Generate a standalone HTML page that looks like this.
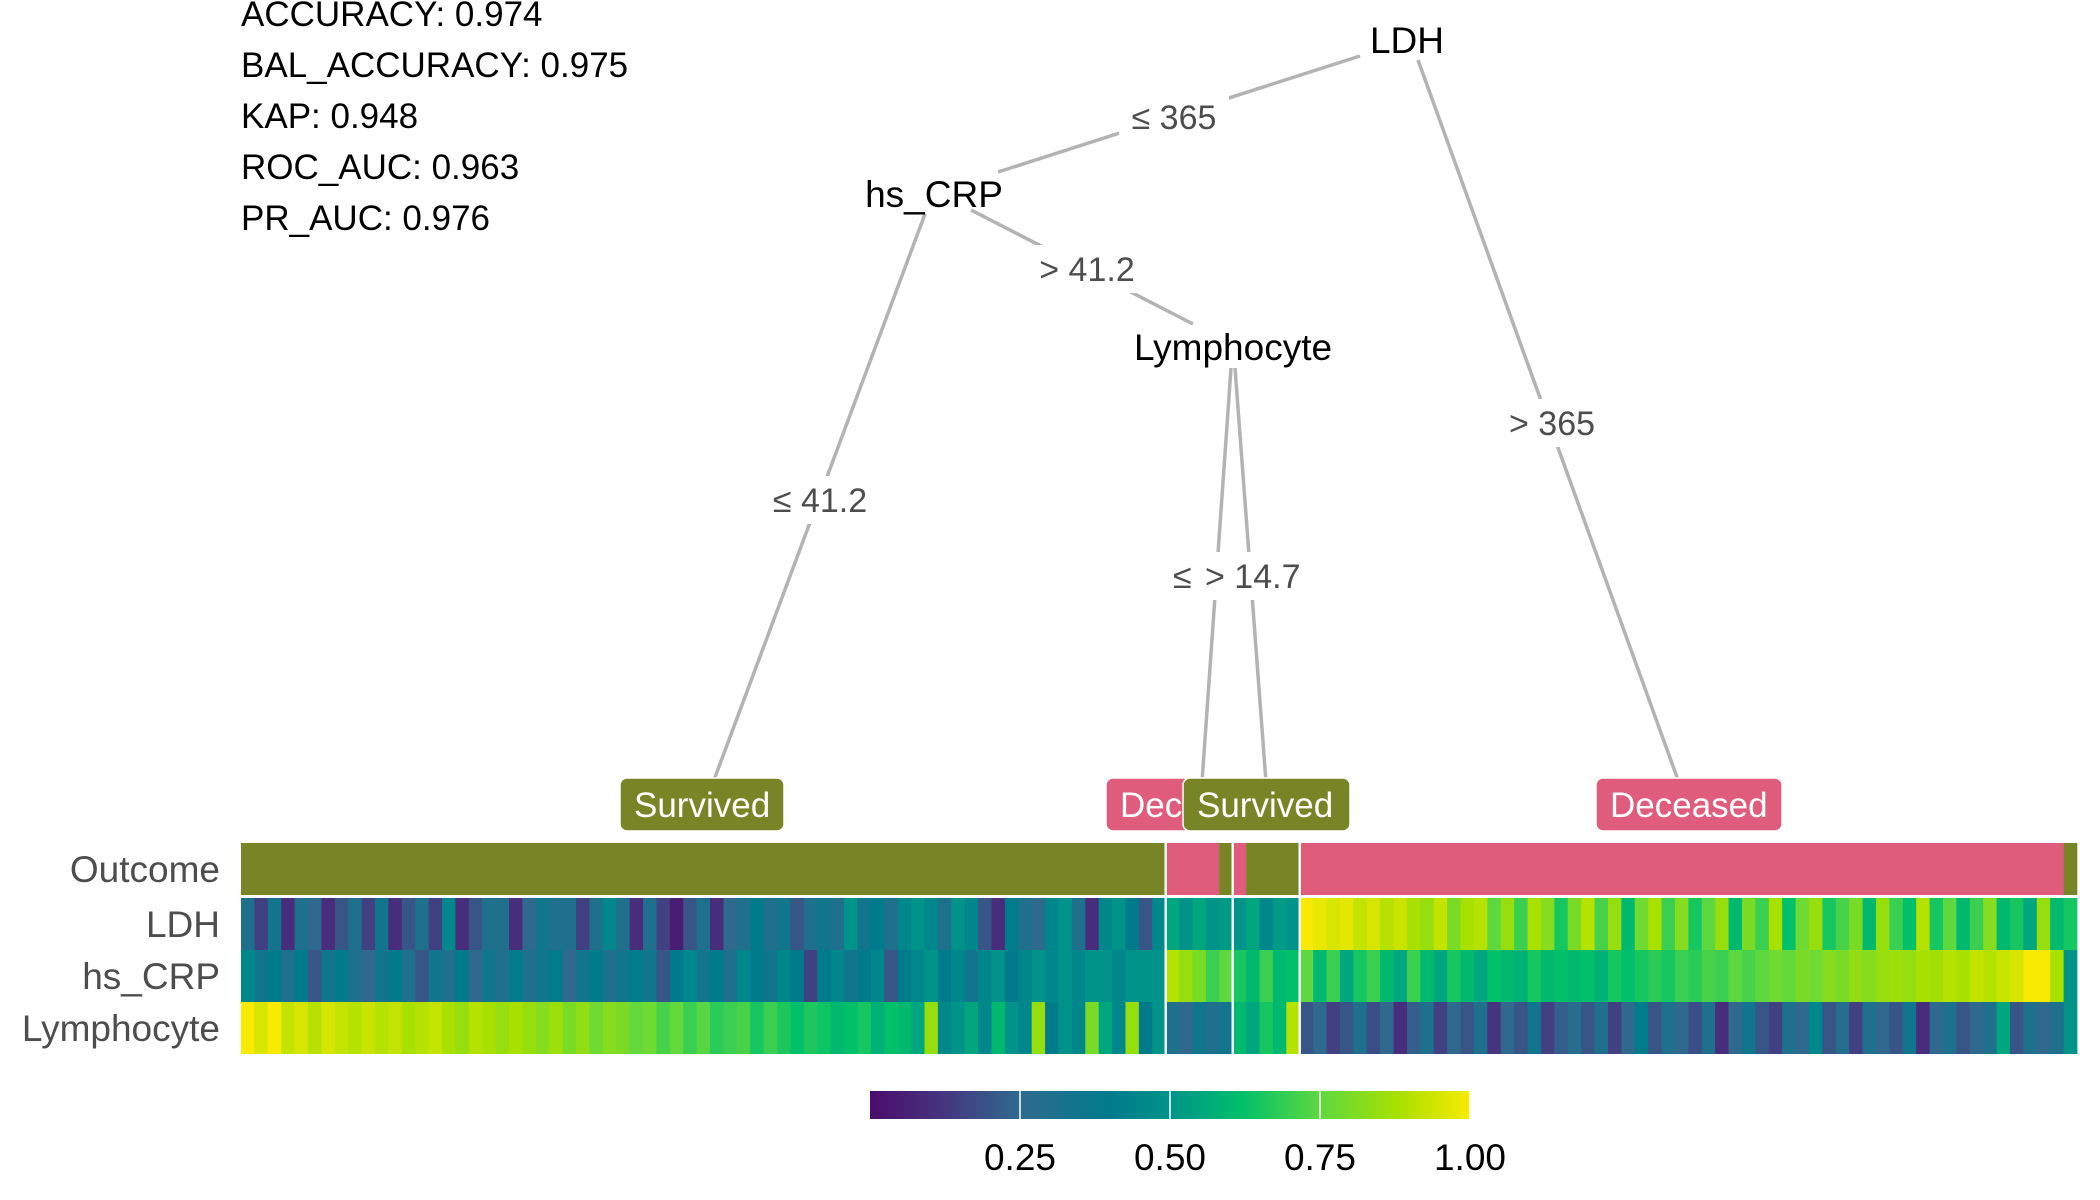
<!DOCTYPE html>
<html><head><meta charset="utf-8"><style>
html,body{margin:0;padding:0;background:#fff;}
svg{display:block;font-family:"Liberation Sans",Arial,sans-serif;}
</style></head><body>
<svg id="chart" xmlns="http://www.w3.org/2000/svg" width="2100" height="1200" viewBox="0 0 2100 1200">
<g id="metrics" font-size="35" fill="#000">
<text x="241" y="26">ACCURACY: 0.974</text>
<text x="241" y="77">BAL_ACCURACY: 0.975</text>
<text x="241" y="128">KAP: 0.948</text>
<text x="241" y="179">ROC_AUC: 0.963</text>
<text x="241" y="230">PR_AUC: 0.976</text>
</g>
<g id="tree"></g>
<g id="heat"></g>
<g id="cbar"></g>
</svg>
<script>
// ---- data ----
const rowNames = ["Outcome","LDH","hs_CRP","Lymphocyte"];
const outcomeRuns = [["S",69],["D",4],["S",1],["D",1],["S",4],["D",57],["S",1]];
const splitCols = [69,74,79];
const ldh = [
0.30,0.15,0.35,0.10,0.30,0.25,0.10,0.20,0.30,0.15,
0.35,0.10,0.20,0.30,0.15,0.45,0.10,0.20,0.30,0.30,
0.10,0.25,0.35,0.30,0.30,0.15,0.30,0.45,0.30,0.10,
0.30,0.15,0.05,0.20,0.30,0.10,0.25,0.30,0.40,0.30,
0.35,0.20,0.30,0.35,0.30,0.50,0.35,0.40,0.30,0.45,
0.50,0.45,0.30,0.50,0.45,0.20,0.10,0.40,0.30,0.25,
0.45,0.50,0.30,0.10,0.45,0.50,0.40,0.20,0.45,
0.55,0.50,0.55,0.50,0.52,
0.50,0.55,0.45,0.52,0.50,
1.00,0.98,0.95,0.97,0.92,0.95,0.90,0.93,0.88,0.85,
0.92,0.80,0.88,0.90,0.75,0.85,0.70,0.88,0.82,0.65,
0.80,0.90,0.72,0.85,0.60,0.78,0.88,0.70,0.82,0.65,
0.75,0.85,0.60,0.80,0.70,0.88,0.62,0.78,0.85,0.65,
0.72,0.80,0.60,0.85,0.70,0.62,0.90,0.65,0.75,0.60,
0.70,0.82,0.60,0.65,0.55,0.85,0.60,0.65];
const crp = [
0.45,0.35,0.40,0.30,0.40,0.20,0.35,0.40,0.30,0.25,
0.35,0.40,0.30,0.20,0.35,0.30,0.40,0.25,0.35,0.30,
0.40,0.30,0.35,0.40,0.25,0.35,0.40,0.30,0.35,0.40,
0.35,0.20,0.40,0.45,0.35,0.40,0.30,0.45,0.40,0.35,
0.45,0.40,0.15,0.40,0.45,0.35,0.40,0.45,0.20,0.40,
0.45,0.50,0.40,0.45,0.35,0.45,0.50,0.40,0.45,0.50,
0.45,0.50,0.45,0.50,0.50,0.45,0.50,0.50,0.50,
0.90,0.85,0.80,0.70,0.75,
0.65,0.60,0.70,0.60,0.62,
0.75,0.60,0.70,0.55,0.65,0.70,0.60,0.55,0.70,0.60,
0.55,0.65,0.60,0.55,0.62,0.60,0.58,0.65,0.60,0.62,
0.60,0.62,0.58,0.65,0.62,0.65,0.68,0.65,0.70,0.68,
0.72,0.70,0.75,0.72,0.75,0.78,0.76,0.80,0.78,0.82,
0.80,0.84,0.82,0.85,0.86,0.85,0.88,0.87,0.90,0.88,
0.92,0.90,0.93,0.95,1.00,1.00,0.88,0.50];
const lym = [
1.00,0.95,1.00,0.92,0.95,0.90,0.95,0.92,0.90,0.93,
0.90,0.92,0.88,0.90,0.92,0.88,0.85,0.90,0.88,0.85,
0.88,0.85,0.82,0.86,0.80,0.84,0.78,0.82,0.80,0.76,
0.78,0.72,0.76,0.70,0.74,0.68,0.70,0.72,0.65,0.70,
0.66,0.62,0.66,0.64,0.60,0.62,0.65,0.58,0.62,0.60,
0.55,0.85,0.45,0.50,0.55,0.45,0.60,0.50,0.45,0.85,
0.40,0.50,0.45,0.80,0.55,0.45,0.85,0.40,0.50,
0.30,0.25,0.35,0.30,0.35,
0.60,0.55,0.65,0.60,0.90,
0.20,0.25,0.15,0.20,0.30,0.18,0.25,0.10,0.22,0.30,
0.15,0.25,0.20,0.30,0.12,0.25,0.20,0.35,0.15,0.22,
0.28,0.20,0.30,0.15,0.25,0.40,0.20,0.30,0.25,0.18,
0.30,0.10,0.25,0.35,0.20,0.15,0.30,0.25,0.45,0.20,
0.28,0.15,0.30,0.25,0.20,0.35,0.10,0.25,0.30,0.20,
0.25,0.30,0.55,0.20,0.30,0.25,0.30,0.50];
const cbarTicks = [0.25,0.50,0.75,1.00];
const cbarLabels = ["0.25","0.50","0.75","1.00"];

const NS="http://www.w3.org/2000/svg";
function mk(parent,tag,attrs){const e=document.createElementNS(NS,tag);for(const k in attrs)e.setAttribute(k,attrs[k]);parent.appendChild(e);return e;}
const VSTOP=[0,0.12,0.25,0.4,0.5,0.62,0.75,0.88,1];
const VCOL=["#4a0c6b","#46347f","#2f6a8e","#007b8c","#00938a","#00c06a","#5ed840","#a8e000","#f8ea00"];
function hex(h){return [1,3,5].map(i=>parseInt(h.substr(i,2),16));}
function viridis(t){t=Math.max(0,Math.min(1,t));let i=0;while(i<VSTOP.length-2&&t>VSTOP[i+1])i++;const f=(t-VSTOP[i])/(VSTOP[i+1]-VSTOP[i]);const a=hex(VCOL[i]),b=hex(VCOL[i+1]);return "rgb("+a.map((v,k)=>Math.round(v+(b[k]-v)*f)).join(",")+")";}
const GREEN="#788526",PINK="#e05c7c";

// ---- heatmap ----
const heat=document.getElementById('heat');
const X0=241,X1=2077,N=ldh.length;
const colX=i=>X0+(X1-X0)*i/N;
const rowTop=[843,898,950,1002],rowH=[52,52,52,52];
let c=0;
outcomeRuns.forEach(r=>{
  const rect=mk(heat,'rect',{x:colX(c),y:rowTop[0],width:colX(c+r[1])-colX(c)+0.3,height:rowH[0],fill:r[0]==="S"?GREEN:PINK});
  
  
  c+=r[1];
});
[ldh,crp,lym].forEach((arr,ri)=>{
  arr.forEach((v,i)=>{
    const rect=mk(heat,'rect',{x:colX(i),y:rowTop[ri+1],width:colX(i+1)-colX(i)+0.4,height:rowH[ri+1],fill:viridis(v)});
    
    
  });
});
splitCols.forEach(s=>{
  const l=mk(heat,'rect',{x:colX(s)-1.2,y:843,width:2.4,height:211,fill:"#fff"});
  
  
});
rowNames.forEach((n,i)=>{
  const t=mk(heat,'text',{x:220,y:rowTop[i]+rowH[i]/2+13,'text-anchor':'end','font-size':37,fill:"#4d4d4d"});
  t.textContent=n;
  
  
});

// ---- colorbar ----
const cb=document.getElementById('cbar');
const defs=mk(cb,'defs',{});
const grad=mk(defs,'linearGradient',{id:'vg',x1:0,x2:1,y1:0,y2:0});
VCOL.forEach((col,i)=>mk(grad,'stop',{offset:VSTOP[i],'stop-color':col}));
const CB0=870,CB1=1470;
const cbx=v=>CB0+(CB1-CB0)*v;
const bar=mk(cb,'rect',{x:CB0,y:1091,width:CB1-CB0,height:28,fill:'url(#vg)'});


cbarTicks.forEach((v,i)=>{
  const l=mk(cb,'line',{x1:cbx(v),x2:cbx(v),y1:1091,y2:1119,stroke:"#fff",'stroke-width':1.5});
  
  
  const t=mk(cb,'text',{x:cbx(v),y:1170,'text-anchor':'middle','font-size':37,fill:"#000"});
  t.textContent=cbarLabels[i];
  
  
});

// ---- tree ----
const tree=document.getElementById('tree');
const edges=[[1360,56,998,172],[1418,60,1678,780],[925,214,714,780],[971,210,1193,324],[1231,368,1202,782],[1235,368,1266,782]];
edges.forEach(e=>{
  const l=mk(tree,'line',{x1:e[0],y1:e[1],x2:e[2],y2:e[3],stroke:"#b3b3b3",'stroke-width':3.5});
  
  
});
function elabel(x,y,txt,w,anchor){
  const start=anchor==='start';
  mk(tree,'rect',{x:start?x-12:x-w/2,y:y-24,width:w,height:48,fill:"#fff"});
  const t=mk(tree,'text',{x:x,y:y+12,'text-anchor':start?'start':'middle','font-size':34,fill:"#4d4d4d"});
  t.textContent=txt;
  
  
}
elabel(1174,117,"\u2264 365",110);
elabel(1552,423,"> 365",110);
elabel(820,500,"\u2264 41.2",120);
elabel(1087,269,"> 41.2",120);
elabel(1173,576,"\u2264 14.7",105,'start');
elabel(1205,576,"> 14.7",118,'start');
[[1407,40,"LDH"],[934,194,"hs_CRP"],[1233,347,"Lymphocyte"]].forEach(n=>{
  const t=mk(tree,'text',{x:n[0],y:n[1]+13,'text-anchor':'middle','font-size':37,fill:"#000"});
  t.textContent=n[2];
  
  
});
function leaf(x0,x1,txt,col){
  const g=mk(tree,'g',{});
  
  
  mk(g,'rect',{x:x0,y:778,width:x1-x0,height:53,rx:7,fill:col,stroke:"#fff",'stroke-width':1.5});
  const t=mk(g,'text',{x:x0+14,y:817,'font-size':35,fill:"#fff"});
  t.textContent=txt;
}
leaf(620,784,"Survived",GREEN);
leaf(1106,1230,"Deceased",PINK);
leaf(1183,1350,"Survived",GREEN);
leaf(1596,1782,"Deceased",PINK);
</script>
</body></html>
